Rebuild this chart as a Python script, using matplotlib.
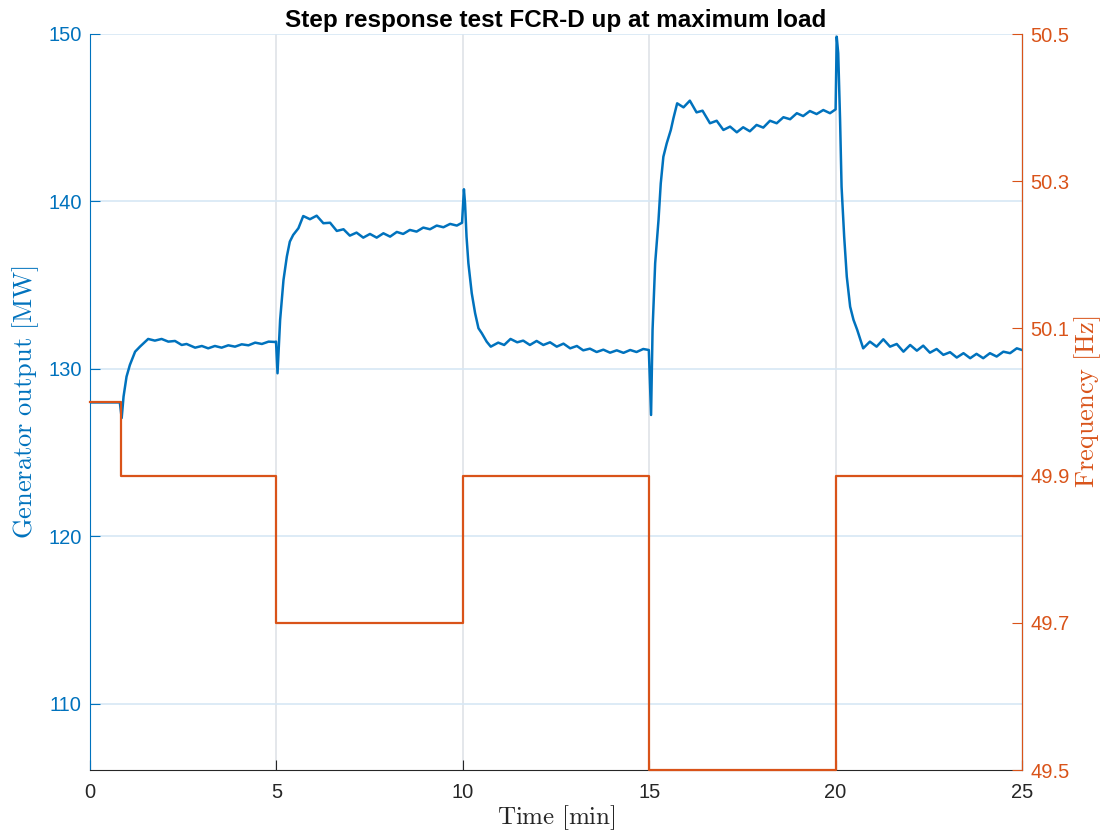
import matplotlib.pyplot as plt

# generator output [MW]
t_gen = [0.0, 0.80, 0.85, 0.90, 0.98, 1.07, 1.21, 1.34, 1.56, 1.74, 1.92, 2.10, 2.28, 2.46,
         2.59, 2.82, 3.00, 3.17, 3.35, 3.53, 3.71, 3.89, 4.07, 4.25, 4.43, 4.61, 4.79,
         4.96, 4.99, 5.03, 5.10, 5.19, 5.28, 5.36, 5.45, 5.59, 5.72, 5.90, 6.08, 6.26,
         6.44, 6.62, 6.80, 6.97, 7.15, 7.33, 7.51, 7.69, 7.87, 8.05, 8.23, 8.40, 8.58,
         8.76, 8.94, 9.12, 9.30, 9.48, 9.66, 9.84, 9.98, 10.03, 10.06, 10.10, 10.15,
         10.24, 10.33, 10.42, 10.51, 10.64, 10.75, 10.95, 11.11, 11.28, 11.46, 11.62,
         11.80, 11.98, 12.16, 12.34, 12.52, 12.70, 12.88, 13.06, 13.23, 13.41, 13.59,
         13.77, 13.95, 14.13, 14.31, 14.49, 14.66, 14.84, 14.99, 15.05, 15.09, 15.16,
         15.25, 15.31, 15.38, 15.47, 15.58, 15.65, 15.75, 15.92, 16.09, 16.27, 16.43,
         16.63, 16.81, 16.99, 17.17, 17.35, 17.52, 17.70, 17.88, 18.06, 18.24, 18.42,
         18.60, 18.78, 18.96, 19.13, 19.31, 19.49, 19.67, 19.85, 20.00, 20.03, 20.07,
         20.12, 20.16, 20.23, 20.30, 20.39, 20.48, 20.58, 20.74, 20.92, 21.10, 21.28,
         21.46, 21.64, 21.82, 22.00, 22.18, 22.35, 22.53, 22.71, 22.89, 23.07, 23.25,
         23.43, 23.61, 23.78, 23.96, 24.14, 24.32, 24.50, 24.68, 24.86, 25.0]
p_gen = [128.0, 128.0, 127.07, 128.35, 129.54, 130.24, 131.03, 131.33, 131.79, 131.69,
         131.79, 131.63, 131.67, 131.43, 131.49, 131.27, 131.37, 131.23, 131.37, 131.27,
         131.41, 131.33, 131.47, 131.41, 131.57, 131.49, 131.63, 131.61, 131.63, 129.74,
         132.93, 135.31, 136.71, 137.60, 138.00, 138.40, 139.13, 138.94, 139.15, 138.70,
         138.73, 138.24, 138.34, 137.96, 138.14, 137.84, 138.06, 137.84, 138.10, 137.90,
         138.18, 138.06, 138.30, 138.20, 138.44, 138.34, 138.56, 138.46, 138.66, 138.56,
         138.73, 140.73, 139.89, 137.90, 136.31, 134.52, 133.33, 132.43, 132.13, 131.63,
         131.33, 131.57, 131.43, 131.79, 131.59, 131.69, 131.43, 131.67, 131.43, 131.59,
         131.33, 131.51, 131.23, 131.37, 131.11, 131.21, 131.01, 131.15, 130.97, 131.11,
         130.96, 131.13, 131.01, 131.19, 131.13, 127.25, 132.33, 136.31, 138.90, 141.08,
         142.67, 143.47, 144.27, 144.97, 145.86, 145.62, 146.02, 145.32, 145.42, 144.67,
         144.82, 144.27, 144.47, 144.13, 144.43, 144.19, 144.57, 144.41, 144.82, 144.67,
         145.03, 144.91, 145.27, 145.10, 145.40, 145.22, 145.46, 145.27, 145.50, 149.84,
         148.85, 144.87, 140.88, 137.90, 135.51, 133.72, 132.93, 132.33, 131.23, 131.63,
         131.33, 131.77, 131.33, 131.49, 131.03, 131.43, 131.09, 131.39, 130.97, 131.19,
         130.84, 131.00, 130.68, 130.94, 130.64, 130.90, 130.64, 130.94, 130.74, 131.03,
         130.94, 131.23, 131.13]

# frequency set-points [Hz]
t_freq = [0.0, 0.83, 5.0, 10.0, 15.0, 20.0, 25.0]
f_freq = [50.0, 49.9, 49.7, 49.9, 49.5, 49.9, 49.9]

x_ticks = [0, 5, 10, 15, 20, 25]
left_ticks = [110, 120, 130, 140, 150]
right_ticks = [49.5, 49.7, 49.9, 50.1, 50.3, 50.5]

blue = '#0072BD'
orange = '#D95319'

plt.rcParams['font.family'] = ['Liberation Sans', 'DejaVu Sans']
plt.rcParams['mathtext.fontset'] = 'cm'

fig = plt.figure(figsize=(11.1, 8.34), dpi=100)
ax = fig.add_axes([90 / 1110, 1 - 770 / 834, (1022 - 90) / 1110, (770 - 34) / 834])
ax2 = ax.twinx()

ax.plot(t_gen, p_gen, color=blue, linewidth=1.8, zorder=3,
        solid_joinstyle='round', solid_capstyle='round')
ax2.plot(t_freq, f_freq, color=orange, linewidth=1.6, drawstyle='steps-post', clip_on=False)

ax.set_xlim(0, 25)
ax.set_ylim(106.05, 150)
ax2.set_ylim(49.5, 50.5)
ax.set_xticks(x_ticks)
ax.set_yticks(left_ticks)
ax2.set_yticks(right_ticks)
ax2.set_yticklabels(['%.1f' % v for v in right_ticks])

# grid lines
for xv in x_ticks[1:-1]:
    ax.axvline(xv, color='#dfe3e8', linewidth=1.2, zorder=0)
for yv in left_ticks:
    ax.axhline(yv, color='#d7e8f5', linewidth=1.2, zorder=0)

# spines
for a in (ax, ax2):
    a.spines['top'].set_visible(False)
ax.spines['left'].set_color(blue)
ax.spines['bottom'].set_color('#262626')
ax2.spines['right'].set_color(orange)
ax2.spines['left'].set_visible(False)
ax2.spines['bottom'].set_visible(False)

ax.tick_params(axis='x', direction='in', length=7, colors='#262626', labelsize=14.5, pad=9)
ax.tick_params(axis='y', direction='in', length=7, colors=blue, labelsize=14.5, pad=6)
ax2.tick_params(axis='y', direction='in', length=7, colors=orange, labelsize=14.5, pad=6)

ax.set_xlabel(r'$\mathrm{Time\ [min]}$', fontsize=18, color='#262626', labelpad=1)
ax.set_ylabel(r'$\mathrm{Generator\ output\ [MW]}$', fontsize=19, color=blue, labelpad=5)
ax2.set_ylabel(r'$\mathrm{Frequency\ [Hz]}$', fontsize=19, color=orange, labelpad=2)

ax.set_title('Step response test FCR-D up at maximum load', fontsize=17.5,
             fontweight='bold', pad=5)

fig.savefig('out.png', dpi=100)
